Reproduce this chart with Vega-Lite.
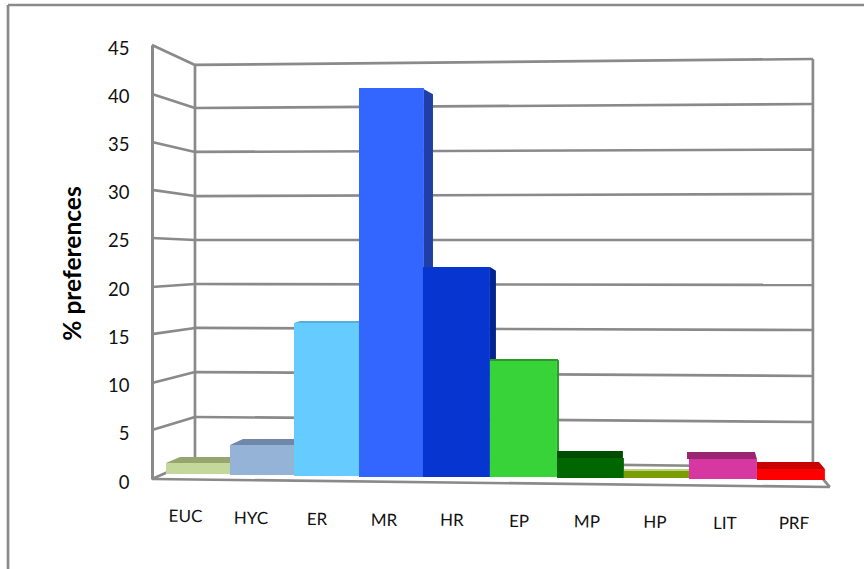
{
  "$schema": "https://vega.github.io/schema/vega-lite/v6.json",
  "width": 712,
  "height": 434,
  "autosize": {"type": "none"},
  "padding": {"left": 152, "top": 45, "right": 0, "bottom": 90},
  "background": "white",
  "config": {"view": {"stroke": null}, "font": "Lato"},
  "datasets": {
    "walls": [
      {"x": -2.384, "x2": -2.384, "y": 49.15, "y2": -9.33},
      {"x": -2.384, "x2": 10.6, "y": 49.15, "y2": 49.15},
      {"x": 0.452, "x2": 0.452, "y": 42.93, "y2": 1.97},
      {"x": 9.825, "x2": 9.825, "y": 43.55, "y2": 1.24},
      {"x": -0.2, "x2": 0.452, "y": 45, "y2": 42.93},
      {"x": -0.2, "x2": 0.452, "y": 39.92, "y2": 38.47},
      {"x": -0.2, "x2": 0.452, "y": 34.94, "y2": 33.91},
      {"x": -0.2, "x2": 0.452, "y": 29.97, "y2": 29.34},
      {"x": -0.2, "x2": 0.452, "y": 24.99, "y2": 24.78},
      {"x": -0.2, "x2": 0.452, "y": 19.91, "y2": 20.22},
      {"x": -0.2, "x2": 0.452, "y": 15.03, "y2": 15.66},
      {"x": -0.2, "x2": 0.452, "y": 9.95, "y2": 11.09},
      {"x": -0.2, "x2": 0.452, "y": 5.08, "y2": 6.43},
      {"x": -0.2, "x2": 0.452, "y": 0, "y2": 1.97},
      {"x": 0.452, "x2": 9.825, "y": 42.93, "y2": 43.55},
      {"x": 0.452, "x2": 9.825, "y": 38.47, "y2": 38.88},
      {"x": 0.452, "x2": 9.825, "y": 33.91, "y2": 34.16},
      {"x": 0.452, "x2": 9.825, "y": 29.34, "y2": 29.55},
      {"x": 0.452, "x2": 9.825, "y": 24.78, "y2": 24.78},
      {"x": 0.452, "x2": 9.825, "y": 20.22, "y2": 20.12},
      {"x": 0.452, "x2": 9.825, "y": 15.66, "y2": 15.45},
      {"x": 0.452, "x2": 9.825, "y": 11.09, "y2": 10.68},
      {"x": 0.452, "x2": 9.825, "y": 6.43, "y2": 5.91},
      {"x": 0.452, "x2": 9.825, "y": 1.97, "y2": 1.24},
      {"x": -0.2, "x2": 10.082, "y": 0, "y2": -0.83},
      {"x": 9.825, "x2": 10.082, "y": 1.24, "y2": -0.83}
    ],
    "faces": [
      {"face": "EUC top", "x": 0.012, "upper": 1.66, "lower": 1.66},
      {"face": "EUC top", "x": 0.224, "upper": 2.28, "lower": 1.66},
      {"face": "EUC top", "x": 0.983, "upper": 2.28, "lower": 1.66},
      {"face": "HYC top", "x": 0.983, "upper": 3.53, "lower": 3.53},
      {"face": "HYC top", "x": 1.18, "upper": 4.15, "lower": 3.53},
      {"face": "HYC top", "x": 1.954, "upper": 4.15, "lower": 3.53},
      {"face": "ER top", "x": 1.954, "upper": 16.18, "lower": 16.18},
      {"face": "ER top", "x": 2.045, "upper": 16.38, "lower": 16.18},
      {"face": "ER top", "x": 2.94, "upper": 16.38, "lower": 16.18},
      {"face": "MR side", "x": 3.925, "upper": 40.4, "lower": 20},
      {"face": "MR side", "x": 4.062, "upper": 39.9, "lower": 20},
      {"face": "HR side", "x": 4.926, "upper": 21.98, "lower": 11},
      {"face": "HR side", "x": 5.017, "upper": 21.6, "lower": 11},
      {"face": "EP top", "x": 4.926, "upper": 12.45, "lower": 12.24},
      {"face": "EP top", "x": 5.957, "upper": 12.45, "lower": 12.24},
      {"face": "EP side", "x": 5.942, "upper": 12.4, "lower": 2.9},
      {"face": "EP side", "x": 5.973, "upper": 12.3, "lower": 2.9},
      {"face": "MP top", "x": 5.942, "upper": 2.9, "lower": 2.18},
      {"face": "MP top", "x": 6.943, "upper": 2.9, "lower": 2.18},
      {"face": "HP top", "x": 6.958, "upper": 1.04, "lower": 0.83},
      {"face": "HP top", "x": 7.945, "upper": 1.04, "lower": 0.83},
      {"face": "LIT top", "x": 7.915, "upper": 2.8, "lower": 2.07},
      {"face": "LIT top", "x": 8.945, "upper": 2.8, "lower": 2.07},
      {"face": "LIT top", "x": 8.976, "upper": 2.07, "lower": 2.07},
      {"face": "PRF top", "x": 8.976, "upper": 1.76, "lower": 1.04},
      {"face": "PRF top", "x": 9.917, "upper": 1.76, "lower": 1.04},
      {"face": "PRF top", "x": 10.007, "upper": 1.04, "lower": 1.04}
    ],
    "bars": [
      {"category": "EUC", "start": 0.012, "end": 0.983, "value": 1.66, "base": 0.52, "labelX": 0.308, "labelY": -3.94},
      {"category": "HYC", "start": 0.983, "end": 1.954, "value": 3.53, "base": 0.41, "labelX": 1.301, "labelY": -4.15},
      {"category": "ER", "start": 1.954, "end": 2.955, "value": 16.18, "base": 0.31, "labelX": 2.302, "labelY": -4.25},
      {"category": "MR", "start": 2.94, "end": 3.925, "value": 40.54, "base": 0.21, "labelX": 3.319, "labelY": -4.35},
      {"category": "HR", "start": 3.91, "end": 4.926, "value": 21.98, "base": 0.21, "labelX": 4.35, "labelY": -4.35},
      {"category": "EP", "start": 4.926, "end": 5.942, "value": 12.24, "base": 0.21, "labelX": 5.366, "labelY": -4.46},
      {"category": "MP", "start": 5.942, "end": 6.958, "value": 2.18, "base": 0.1, "labelX": 6.397, "labelY": -4.51},
      {"category": "HP", "start": 6.958, "end": 7.945, "value": 0.83, "base": 0.1, "labelX": 7.428, "labelY": -4.56},
      {"category": "LIT", "start": 7.945, "end": 8.976, "value": 2.07, "base": 0, "labelX": 8.49, "labelY": -4.67},
      {"category": "PRF", "start": 8.976, "end": 10.007, "value": 1.04, "base": -0.1, "labelX": 9.537, "labelY": -4.67}
    ]
  },
  "layer": [
    {
      "data": {"name": "walls"},
      "mark": {"type": "rule", "stroke": "#8a8a8a", "strokeWidth": 2.7},
      "encoding": {
        "x": {"field": "x", "type": "quantitative", "axis": null, "scale": {"domain": [-0.2, 10.6], "nice": false, "zero": false}},
        "x2": {"field": "x2"},
        "y": {
          "field": "y",
          "type": "quantitative",
          "scale": {"domain": [0, 45], "nice": false, "zero": false},
          "axis": {
            "title": "% preferences",
            "titleFont": "Lato",
            "titleFontSize": 24.5,
            "titleFontWeight": "bold",
            "titleColor": "#000000",
            "titleX": -79,
            "titleY": 218,
            "titleAlign": "center",
            "titleBaseline": "middle",
            "values": [0, 5, 10, 15, 20, 25, 30, 35, 40, 45],
            "grid": false,
            "ticks": false,
            "labelFont": "Lato",
            "labelFontSize": 18.5,
            "labelColor": "#111111",
            "labelPadding": 23,
            "labelOffset": 3,
            "labelOverlap": false,
            "labelFlush": false,
            "domainColor": "#8a8a8a",
            "domainWidth": 3
          }
        },
        "y2": {"field": "y2"}
      }
    },
    {
      "data": {"name": "faces"},
      "mark": {"type": "area", "interpolate": "linear", "clip": false},
      "encoding": {
        "x": {"field": "x", "type": "quantitative"},
        "y": {"field": "upper", "type": "quantitative", "stack": null},
        "y2": {"field": "lower"},
        "detail": {"field": "face"},
        "color": {
          "field": "face",
          "type": "nominal",
          "legend": null,
          "scale": {
            "domain": ["EUC top", "HYC top", "ER top", "MR side", "HR side", "EP top", "EP side", "MP top", "HP top", "LIT top", "PRF top"],
            "range": ["#97A56F", "#6F87A8", "#55AEDD", "#1F3FA5", "#00258F", "#2A9A2A", "#2A9A2A", "#004D00", "#BFCF8A", "#9C2573", "#C80000"]
          }
        }
      }
    },
    {
      "data": {"name": "bars"},
      "mark": {"type": "bar"},
      "encoding": {
        "x": {"field": "start", "type": "quantitative"},
        "x2": {"field": "end"},
        "y": {"field": "value", "type": "quantitative"},
        "y2": {"field": "base"},
        "fill": {
          "field": "category",
          "type": "nominal",
          "legend": null,
          "scale": {
            "domain": ["EUC", "HYC", "ER", "MR", "HR", "EP", "MP", "HP", "LIT", "PRF"],
            "range": ["#C5D89B", "#95B3D7", "#66CCFF", "#3366FF", "#0635D0", "#38D338", "#006600", "#7A9E00", "#D637A0", "#FF0000"]
          }
        }
      }
    },
    {
      "data": {"name": "bars"},
      "mark": {"type": "text", "font": "Lato", "fontSize": 17, "fill": "#111111", "align": "center", "baseline": "middle", "angle": 0.6},
      "encoding": {
        "x": {"field": "labelX", "type": "quantitative"},
        "y": {"field": "labelY", "type": "quantitative"},
        "text": {"field": "category"}
      }
    }
  ]
}
